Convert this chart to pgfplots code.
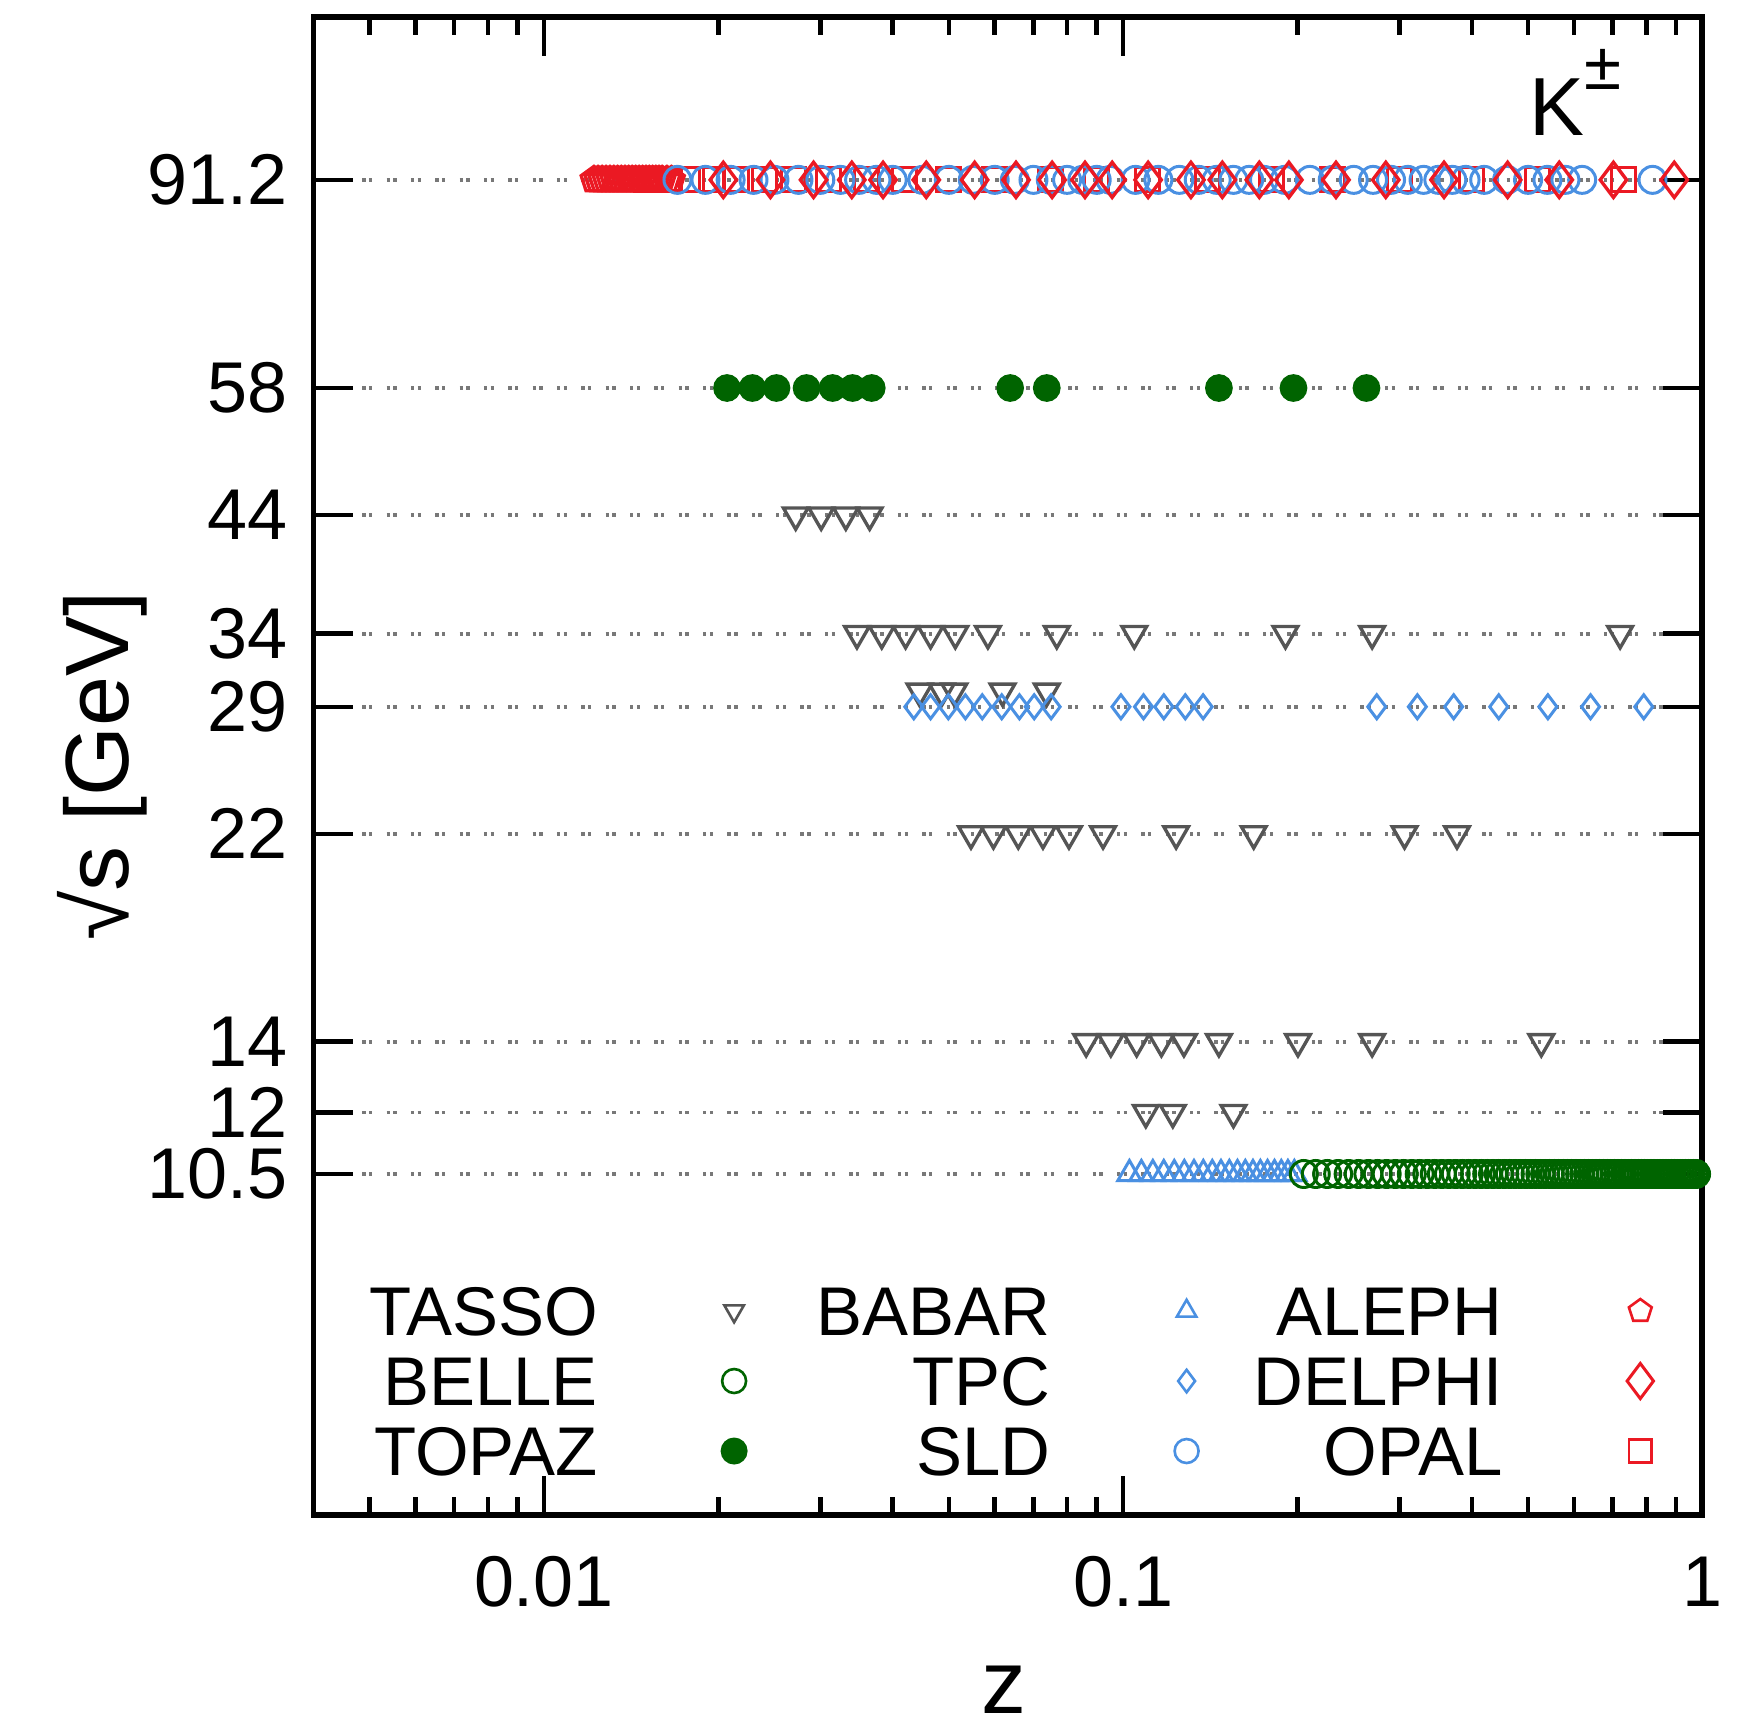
\documentclass[border=0pt]{standalone}
\usepackage{fontspec}
\setmainfont{Liberation Sans}
\usepackage{pgfplots}
\pgfplotsset{compat=1.18}

\definecolor{tassogray}{RGB}{85,85,85}
\definecolor{dkgreen}{RGB}{0,100,0}
\definecolor{ltblue}{RGB}{74,144,226}
\definecolor{lred}{RGB}{235,25,35}
\definecolor{gridgray}{RGB}{120,120,120}

\begin{document}
\begin{tikzpicture}
\begin{axis}[
  scale only axis,
  width=185.4pt, height=200pt,
  xmode=log, ymode=log,
  xmin=0.004, xmax=1, ymin=5, ymax=130,
  xtick={0.01,0.1,1}, xticklabels={0.01,0.1,1},
  minor xtick={0.005,0.006,0.007,0.008,0.009,0.02,0.03,0.04,0.05,0.06,0.07,0.08,0.09,0.2,0.3,0.4,0.5,0.6,0.7,0.8,0.9},
  ytick={10.5,12,14,22,29,34,44,58,91.2},
  yticklabels={10.5,12,14,22,29,34,44,58,91.2},
  yminorticks=false,
  tick align=inside,
  major tick length=5.3pt, minor tick length=2.4pt,
  every tick/.style={black, line width=0.6pt},
  axis line style={line width=0.8pt},
  ymajorgrids,
  major grid style={draw=gridgray, line width=0.5pt, dash pattern=on 0.45pt off 0.45pt on 0.45pt off 1.9pt},
  tick label style={font=\fontsize{9.6}{11}\selectfont},
  xticklabel style={yshift=-2pt},
  xlabel={z}, ylabel={√s [GeV]},
  label style={font=\fontsize{12}{14}\selectfont},
  xlabel style={at={(axis description cs:0.497,-0.1325)}, anchor=base},
  ylabel style={at={(axis description cs:-0.1335,0.5)}, anchor=base},
  legend plot pos=right,
  legend cell align=right,
  legend columns=3,
  legend image code/.code={\draw[#1] plot coordinates {(0pt,0.8pt)};},
  legend style={draw=none, fill=none, inner sep=0pt, nodes={inner sep=0pt},
    row sep=1.42pt, at={(rel axis cs:0.0202,0.018)}, anchor=south west,
    font=\fontsize{9.2}{11}\selectfont,
    /tikz/every odd column/.append style={column sep=16.6pt},
    /tikz/every even column/.append style={column sep=6.6pt}},
]
% TASSO
\addplot[forget plot, only marks, mark=triangle, mark size=1.9pt,
  mark options={rotate=180, draw=tassogray, fill=black!15, line width=0.45pt}]
  coordinates {
  (0.0272,44) (0.0301,44) (0.0332,44) (0.0365,44)
  (0.0347,34) (0.0383,34) (0.0421,34) (0.0465,34) (0.0513,34) (0.0584,34)
  (0.0768,34) (0.1045,34) (0.1906,34) (0.269,34) (0.721,34)
  (0.0445,30) (0.0486,30) (0.0511,30) (0.0619,30) (0.0738,30)
  (0.0546,22) (0.0597,22) (0.0659,22) (0.0727,22) (0.0806,22) (0.0923,22)
  (0.1234,22) (0.168,22) (0.306,22) (0.377,22)
  (0.0863,14) (0.0952,14) (0.1055,14) (0.1164,14) (0.1273,14) (0.1463,14)
  (0.2003,14) (0.269,14) (0.527,14)
  (0.1094,12) (0.1218,12) (0.155,12)};
% BABAR
\addplot[forget plot, only marks, mark=triangle, mark size=1.8pt,
  mark options={draw=ltblue, line width=0.4pt}]
  coordinates {
  (0.1025,10.5) (0.1075,10.5) (0.1125,10.5) (0.1175,10.5) (0.1225,10.5)
  (0.1275,10.5) (0.1325,10.5) (0.1375,10.5) (0.1425,10.5) (0.1475,10.5)
  (0.1525,10.5) (0.1575,10.5) (0.1625,10.5) (0.1675,10.5) (0.1725,10.5)
  (0.1775,10.5) (0.1825,10.5) (0.1875,10.5) (0.1925,10.5) (0.1975,10.5)};
% BELLE
\addplot[forget plot, only marks, mark=o, mark size=1.8pt,
  mark options={draw=dkgreen, line width=0.4pt}]
  coordinates {
  (0.205,10.5) (0.215,10.5) (0.225,10.5) (0.235,10.5) (0.245,10.5) (0.255,10.5)
  (0.265,10.5) (0.275,10.5) (0.285,10.5) (0.295,10.5) (0.305,10.5) (0.315,10.5)
  (0.325,10.5) (0.335,10.5) (0.345,10.5) (0.355,10.5) (0.365,10.5) (0.375,10.5)
  (0.385,10.5) (0.395,10.5) (0.405,10.5) (0.415,10.5) (0.425,10.5) (0.435,10.5)
  (0.445,10.5) (0.455,10.5) (0.465,10.5) (0.475,10.5) (0.485,10.5) (0.495,10.5)
  (0.505,10.5) (0.515,10.5) (0.525,10.5) (0.535,10.5) (0.545,10.5) (0.555,10.5)
  (0.565,10.5) (0.575,10.5) (0.585,10.5) (0.595,10.5) (0.605,10.5) (0.615,10.5)
  (0.625,10.5) (0.635,10.5) (0.645,10.5) (0.655,10.5) (0.665,10.5) (0.675,10.5)
  (0.685,10.5) (0.695,10.5) (0.705,10.5) (0.715,10.5) (0.725,10.5) (0.735,10.5)
  (0.745,10.5) (0.755,10.5) (0.765,10.5) (0.775,10.5) (0.785,10.5) (0.795,10.5)
  (0.805,10.5) (0.815,10.5) (0.825,10.5) (0.835,10.5) (0.845,10.5) (0.855,10.5)
  (0.865,10.5) (0.875,10.5) (0.885,10.5) (0.895,10.5) (0.905,10.5) (0.915,10.5)
  (0.925,10.5) (0.935,10.5) (0.945,10.5) (0.955,10.5) (0.965,10.5) (0.975,10.5)};
% TOPAZ
\addplot[forget plot, only marks, mark=*, mark size=1.65pt,
  mark options={draw=dkgreen, fill=dkgreen}]
  coordinates {
  (0.0207,58) (0.0229,58) (0.0252,58) (0.0284,58) (0.0315,58) (0.0341,58)
  (0.0368,58) (0.0638,58) (0.0738,58) (0.1463,58) (0.1968,58) (0.263,58)};
% TPC
\addplot[forget plot, only marks, mark=diamond, mark size=1.6pt,
  mark options={draw=ltblue, line width=0.4pt}]
  coordinates {
  (0.0435,29) (0.0465,29) (0.0499,29) (0.0534,29) (0.0571,29) (0.0617,29)
  (0.0662,29) (0.0702,29) (0.0751,29) (0.0991,29) (0.1084,29) (0.1175,29)
  (0.1280,29) (0.1374,29) (0.274,29) (0.322,29) (0.372,29) (0.445,29)
  (0.541,29) (0.641,29) (0.792,29)};
% ALEPH
\addplot[forget plot, only marks, mark=pentagon, mark size=1.8pt,
  mark options={draw=lred, line width=0.45pt}]
  coordinates {
  (0.0122,91.2) (0.0124,91.2) (0.0126,91.2) (0.0128,91.2) (0.0130,91.2)
  (0.0132,91.2) (0.0134,91.2) (0.0136,91.2) (0.0138,91.2) (0.0140,91.2)
  (0.0142,91.2) (0.0144,91.2) (0.0146,91.2) (0.0148,91.2) (0.0150,91.2)
  (0.0152,91.2) (0.0154,91.2) (0.0156,91.2) (0.0158,91.2) (0.0160,91.2)
  (0.0163,91.2) (0.0166,91.2)};
% OPAL
\addplot[forget plot, only marks, mark=square, mark size=1.6pt,
  mark options={draw=lred, line width=0.4pt}]
  coordinates {
  (0.0150,91.2) (0.0165,91.2) (0.0180,91.2) (0.0195,91.2) (0.0215,91.2)
  (0.024,91.2) (0.027,91.2) (0.031,91.2) (0.036,91.2) (0.042,91.2)
  (0.050,91.2) (0.060,91.2) (0.075,91.2) (0.090,91.2) (0.11,91.2)
  (0.14,91.2) (0.18,91.2) (0.23,91.2) (0.30,91.2) (0.40,91.2)
  (0.52,91.2) (0.73,91.2)};
% SLD
\addplot[forget plot, only marks, mark=o, mark size=1.8pt,
  mark options={draw=ltblue, line width=0.4pt}]
  coordinates {
  (0.017,91.2) (0.019,91.2) (0.021,91.2) (0.023,91.2) (0.025,91.2)
  (0.0275,91.2) (0.030,91.2) (0.0325,91.2) (0.035,91.2) (0.0375,91.2)
  (0.040,91.2) (0.045,91.2) (0.050,91.2) (0.055,91.2) (0.060,91.2)
  (0.065,91.2) (0.070,91.2) (0.075,91.2) (0.080,91.2) (0.085,91.2)
  (0.090,91.2) (0.095,91.2) (0.105,91.2) (0.115,91.2) (0.125,91.2)
  (0.135,91.2) (0.145,91.2) (0.155,91.2) (0.165,91.2) (0.175,91.2)
  (0.19,91.2) (0.21,91.2) (0.23,91.2) (0.25,91.2) (0.27,91.2)
  (0.29,91.2) (0.31,91.2) (0.33,91.2) (0.35,91.2) (0.37,91.2)
  (0.39,91.2) (0.42,91.2) (0.46,91.2) (0.50,91.2) (0.54,91.2)
  (0.58,91.2) (0.62,91.2) (0.82,91.2)};
% DELPHI
\addplot[forget plot, only marks, mark=diamond, mark size=2.35pt,
  mark options={draw=lred, line width=0.45pt}]
  coordinates {
  (0.0204,91.2) (0.0246,91.2) (0.0292,91.2) (0.0340,91.2) (0.0385,91.2)
  (0.0457,91.2) (0.0554,91.2) (0.0653,91.2) (0.0754,91.2) (0.0859,91.2)
  (0.0957,91.2) (0.1104,91.2) (0.1309,91.2) (0.1483,91.2) (0.1718,91.2)
  (0.1932,91.2) (0.233,91.2) (0.284,91.2) (0.358,91.2) (0.461,91.2)
  (0.566,91.2) (0.702,91.2) (0.894,91.2)};

% legend, row by row
\addlegendimage{mark=triangle, mark size=1.5pt, mark options={rotate=180, draw=tassogray, line width=0.35pt}}
\addlegendentry{\makebox[34pt][r]{TASSO}}
\addlegendimage{mark=triangle, mark size=1.5pt, mark options={draw=ltblue, line width=0.35pt}}
\addlegendentry{\makebox[34pt][r]{BABAR}}
\addlegendimage{mark=pentagon, mark size=1.6pt, mark options={draw=lred, line width=0.35pt}}
\addlegendentry{\makebox[34pt][r]{ALEPH}}
\addlegendimage{mark=o, mark size=1.6pt, mark options={draw=dkgreen, line width=0.35pt}}
\addlegendentry{\makebox[34pt][r]{BELLE}}
\addlegendimage{mark=diamond, mark size=1.5pt, mark options={draw=ltblue, line width=0.35pt}}
\addlegendentry{\makebox[34pt][r]{TPC}}
\addlegendimage{mark=diamond, mark size=2.35pt, mark options={draw=lred, line width=0.4pt}}
\addlegendentry{\makebox[34pt][r]{DELPHI}}
\addlegendimage{mark=*, mark size=1.6pt, mark options={draw=dkgreen, fill=dkgreen}}
\addlegendentry{\makebox[34pt][r]{TOPAZ}}
\addlegendimage{mark=o, mark size=1.6pt, mark options={draw=ltblue, line width=0.35pt}}
\addlegendentry{\makebox[34pt][r]{SLD}}
\addlegendimage{mark=square, mark size=1.5pt, mark options={draw=lred, line width=0.35pt}}
\addlegendentry{\makebox[34pt][r]{OPAL}}

\node[anchor=base west, inner sep=0pt, font=\fontsize{11}{13}\selectfont] at (rel axis cs:0.8746,0.921) {K\raisebox{0.55em}{\fontsize{9}{9}\selectfont ±}};
\end{axis}
\pgfresetboundingbox
\useasboundingbox ([shift={(-41.85pt,-28.8pt)}]current axis.south west) rectangle ([shift={(7.95pt,2.25pt)}]current axis.north east);
\end{tikzpicture}
\end{document}
